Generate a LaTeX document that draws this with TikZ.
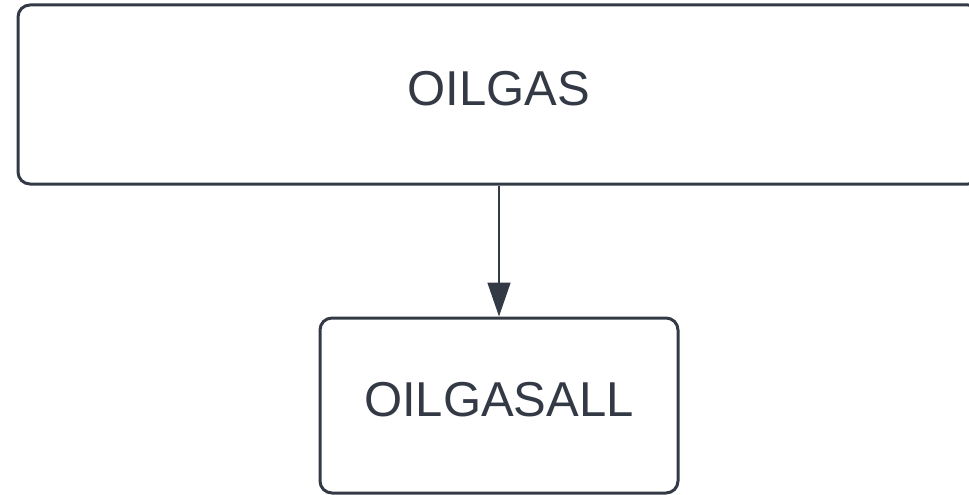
\documentclass[tikz,border=0pt]{standalone}
\usepackage{fontspec}
\setmainfont{Liberation Sans}
\usepackage{xcolor}
\usetikzlibrary{%
  arrows.meta,%
  positioning}
\definecolor{ink}{HTML}{343A45}

\tikzset{
  table/.style={rectangle, draw=ink, line width=3pt, rounded corners=12pt,
    text=ink, font=\fontsize{49}{58}\selectfont, text depth=13pt, inner sep=0pt},
  link/.style={draw=ink, line width=1.6pt, -{Triangle[length=34pt,width=23pt]}}
}

\begin{document}
\begin{tikzpicture}[x=1pt,y=-1pt]
\useasboundingbox (0,0) rectangle (969,495);
% les deux tables
\node (oilgas) at (499,94.5) [table, minimum width=962pt, minimum height=179pt] {OILGAS};
\node (oilgasall) at (499,405.5) [table, minimum width=358pt, minimum height=175pt] {OILGASALL};
\draw[link] (oilgas) -- (oilgasall);
\end{tikzpicture}
\end{document}
